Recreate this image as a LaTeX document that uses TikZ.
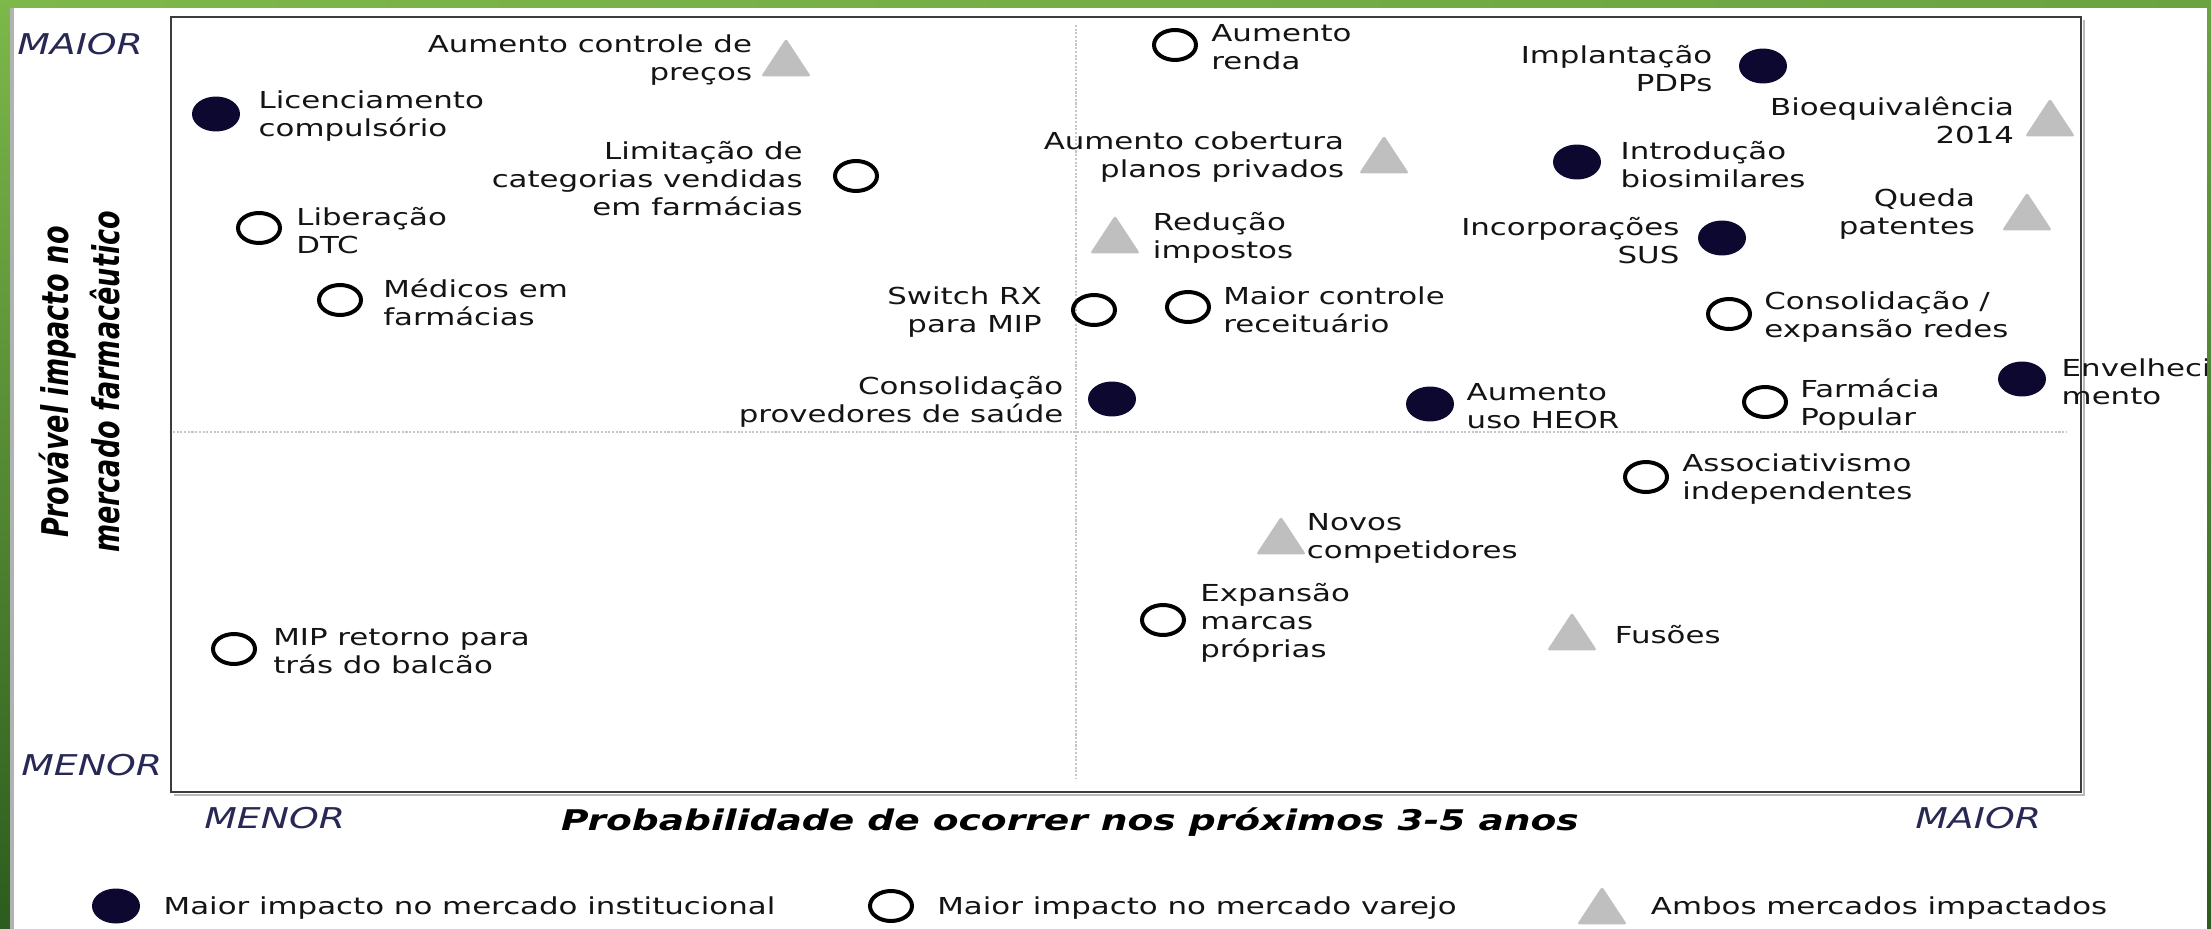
\documentclass[tikz,border=0pt]{standalone}
\usepackage{fontspec}
\setmainfont{DejaVu Sans}[FakeStretch=1.32,
  ItalicFont={DejaVu Sans Oblique},
  BoldFont={DejaVu Sans Bold},
  BoldItalicFont={DejaVu Sans Bold Oblique}]
\newfontfamily\ytitlefont{DejaVu Sans Bold Oblique}
\usepackage{graphicx}
\usetikzlibrary{positioning}
\usetikzlibrary{shapes.geometric}
\definecolor{mynavy}{RGB}{12,8,48}
\definecolor{mygrey}{RGB}{191,191,191}
\definecolor{axisblue}{RGB}{40,40,85}
\definecolor{labeltext}{RGB}{20,20,20}
\definecolor{boxgrey}{RGB}{60,60,60}
\definecolor{greenA}{RGB}{125,184,74}
\definecolor{greenB}{RGB}{142,196,82}
\definecolor{greenC}{RGB}{106,164,66}
\definecolor{greenD}{RGB}{44,92,30}

\begin{document}
\begin{tikzpicture}[%
  x=0.02cm, y=-0.02cm,
  inst/.style={ellipse, fill=mynavy, inner sep=0pt,
    minimum width=0.96cm, minimum height=0.7cm},
  varejo/.style={ellipse, draw=black, line width=0.08cm, inner sep=0pt,
    minimum width=0.84cm, minimum height=0.6cm},
  ambos/.style={isosceles triangle, isosceles triangle stretches,
    shape border rotate=90, fill=mygrey, rounded corners=1.5pt, inner sep=0pt,
    minimum width=1.0cm, minimum height=0.76cm},
  lbl/.style={inner sep=0pt, text=labeltext, yshift=-0.05cm,
    font=\fontsize{13.3}{15.9}\selectfont},
  lblR/.style={lbl, align=left},
  lblL/.style={lbl, align=right},
  triR/.style={lblR, yshift=0.1cm},
  triL/.style={lblL, yshift=0.1cm},
  tick/.style={inner sep=0pt, text=axisblue, font=\fontsize{16.3}{19}\selectfont\itshape},
  divider/.style={gray!45, line width=0.7pt, dash pattern=on 1.2pt off 0.9pt},
]

  \useasboundingbox (0,0) rectangle (2211,929);
  \fill[white] (0,0) rectangle (2211,929);

  % plot area
  \coordinate (boxNW) at (171,17);
  \coordinate (boxSE) at (2081,792);
  \coordinate (vtop) at (1076,25);
  \coordinate (vbot) at (1076,778);
  \coordinate (hleft) at (173,432);
  \coordinate (hright) at (2067,432);
  \draw[gray!55, line width=0.05cm] ([shift={(3,3)}]boxNW -| boxSE) -- ([shift={(3,3)}]boxSE) -- ([shift={(3,3)}]boxNW |- boxSE);
  \draw[boxgrey, line width=0.05cm] (boxNW) rectangle (boxSE);
  \draw[divider] (vtop) -- (vbot);
  \draw[divider] (hleft) -- (hright);

  % markers
  \node[inst] (licen) at (216,114) {};
  \node[inst] (provedores) at (1112,399) {};
  \node[inst] (pdps) at (1763,66) {};
  \node[inst] (biosim) at (1577,162) {};
  \node[inst] (sus) at (1722,238) {};
  \node[inst] (envelh) at (2022,379) {};
  \node[inst] (heor) at (1430,404) {};

  \node[varejo] (limit) at (856,176) {};
  \node[varejo] (liber) at (259,228) {};
  \node[varejo] (medicos) at (340,300) {};
  \node[varejo] (switch) at (1094,310) {};
  \node[varejo] (mipret) at (234,649) {};
  \node[varejo] (renda) at (1175,45) {};
  \node[varejo] (controle) at (1188,307) {};
  \node[varejo] (redes) at (1729,314) {};
  \node[varejo] (popular) at (1765,402) {};
  \node[varejo] (assoc) at (1646,477) {};
  \node[varejo] (marcas) at (1163,620) {};

  % triangle centres sit below the middle of their box
  \node[ambos] (precos) at (786,63) {};
  \node[ambos] (bioeq) at (2050,123) {};
  \node[ambos] (cobertura) at (1384,160) {};
  \node[ambos] (queda) at (2027,217) {};
  \node[ambos] (reducao) at (1115,240) {};
  \node[ambos] (novos) at (1281,541) {};
  \node[ambos] (fusoes) at (1572,637) {};

  % labels
  \node[lblR, right=0.36cm of licen] (licenT) {Licenciamento\\compulsório};
  \node[lblR, right=0.28cm of liber] (liberT) {Liberação\\DTC};
  \node[lblR, right=0.40cm of medicos] (medicosT) {Médicos em\\farmácias};
  \node[lblR, right=0.32cm of mipret] (mipretT) {MIP retorno para\\trás do balcão};
  \node[lblR, right=0.26cm of renda] (rendaT) {Aumento\\renda};
  \node[lblR, right=0.38cm of biosim] (biosimT) {Introdução\\biosimilares};
  \node[triR, right=0.42cm of reducao] (reducaoT) {Redução\\impostos};
  \node[lblR, right=0.24cm of controle] (controleT) {Maior controle\\receituário};
  \node[lblR, right=0.24cm of redes] (redesT) {Consolidação /\\expansão redes};
  \node[lblR, right=0.30cm of envelh] (envelhT) {Envelheci\\mento};
  \node[lblR, right=0.24cm of heor] (heorT) {Aumento\\uso HEOR};
  \node[lblR, right=0.24cm of popular] (popularT) {Farmácia\\Popular};
  \node[lblR, right=0.26cm of assoc] (assocT) {Associativismo\\independentes};
  \node[triR, right=0.18cm of novos] (novosT) {Novos\\competidores};
  \node[lblR, right=0.28cm of marcas] (marcasT) {Expansão\\marcas\\próprias};
  \node[triR, right=0.52cm of fusoes] (fusoesT) {Fusões};

  \node[triL, left=0.34cm of precos] (precosT) {Aumento controle de\\preços};
  \node[lblL, left=0.60cm of limit] (limitT) {Limitação de\\categorias vendidas\\em farmácias};
  \node[lblL, left=0.58cm of switch] (switchT) {Switch RX\\para MIP};
  \node[lblL, left=0.48cm of provedores] (provedoresT) {Consolidação\\provedores de saúde};
  \node[lblL, left=0.52cm of pdps] (pdpsT) {Implantação\\PDPs};
  \node[triL, left=0.38cm of bioeq] (bioeqT) {Bioequivalência\\2014};
  \node[triL, left=0.46cm of cobertura] (coberturaT) {Aumento cobertura\\planos privados};
  \node[triL, left=0.70cm of queda] (quedaT) {Queda\\patentes};
  \node[lblL, left=0.36cm of sus] (susT) {Incorporações\\SUS};

  % axes
  \node[tick, anchor=base west] (maiorY) at (17,55) {MAIOR};
  \node[tick, anchor=base west] (menorY) at (21,775) {MENOR};
  \node[tick, anchor=base west] (menorX) at (204,828) {MENOR};
  \node[tick, anchor=base west] (maiorX) at (1915,828) {MAIOR};
  \node[inner sep=0pt, anchor=base, font=\fontsize{16.2}{19}\selectfont\bfseries\itshape]
    (xtitle) at (1070,830) {Probabilidade de ocorrer nos próximos 3-5 anos};
  \node[inner sep=0pt, rotate=90] (ytitle) at (84,382)
    {\scalebox{1}[1.36]{\ytitlefont\fontsize{15.4}{21.5}\selectfont
      \begin{tabular}{@{}c@{}}Provável impacto no\\mercado farmacêutico\end{tabular}}};

  % legend
  \node[inst] (legInst) at (116,906) {};
  \node[varejo] (legVarejo) at (891,906) {};
  \node[ambos] (legAmbos) at (1602,911) {};
  \node[lblR, right=0.46cm of legInst] (legInstT) {Maior impacto no mercado institucional};
  \node[lblR, right=0.46cm of legVarejo] (legVarejoT) {Maior impacto no mercado varejo};
  \node[triR, right=0.64cm of legAmbos] (legAmbosT) {Ambos mercados impactados};

  % green frame
  \shade[left color=greenA, middle color=greenB, right color=greenC] (0,0) rectangle (2211,8);
  \shade[top color=greenA, bottom color=greenD] (0,0) rectangle (10,929);
  \fill[gray!60] (10,8) rectangle (14,929);
  \shade[top color=greenC, bottom color=greenD] (2207,0) rectangle (2211,929);

\end{tikzpicture}
\end{document}
